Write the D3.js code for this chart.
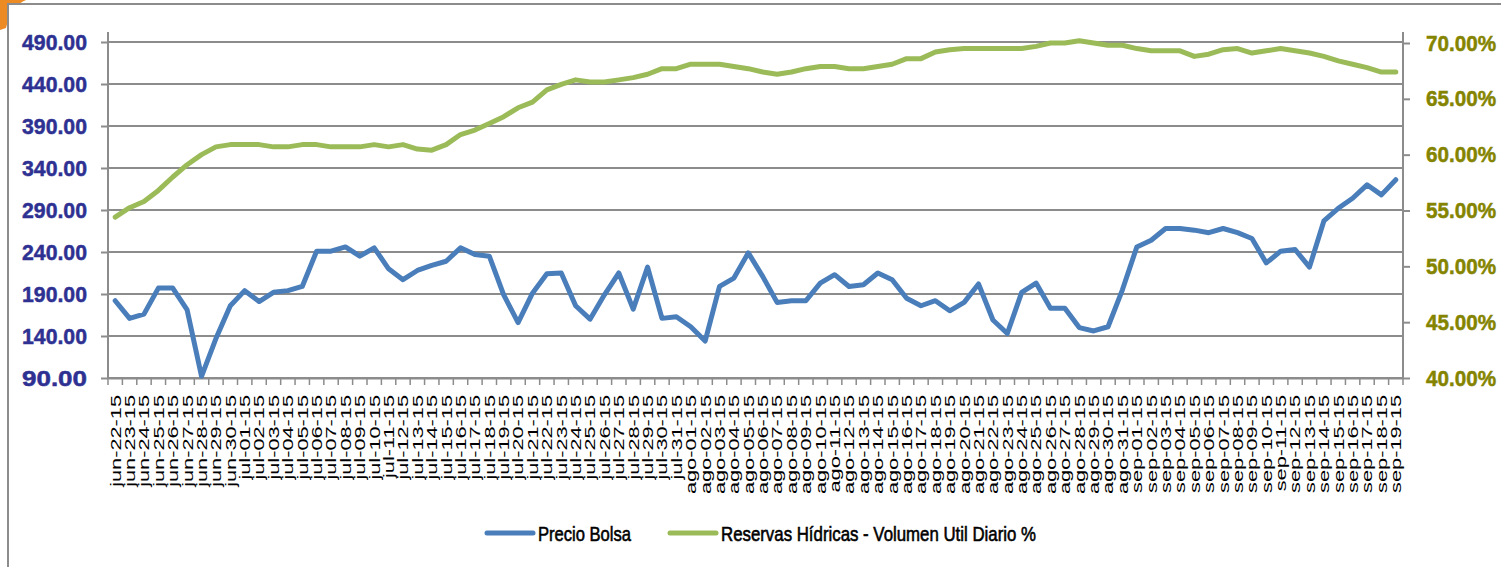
<!DOCTYPE html>
<html>
<head>
<meta charset="utf-8">
<script src="https://cdn.jsdelivr.net/npm/d3@7"></script>
<style>
  body { margin: 0; background: #fff; }
  svg { display: block; }
</style>
</head>
<body>
<div class="usable"></div>
<script>
const fechas = [
  "jun-22-15", "jun-23-15", "jun-24-15", "jun-25-15", "jun-26-15", "jun-27-15", "jun-28-15", "jun-29-15", "jun-30-15",
  "jul-01-15", "jul-02-15", "jul-03-15", "jul-04-15", "jul-05-15", "jul-06-15", "jul-07-15", "jul-08-15", "jul-09-15", "jul-10-15",
  "jul-11-15", "jul-12-15", "jul-13-15", "jul-14-15", "jul-15-15", "jul-16-15", "jul-17-15", "jul-18-15", "jul-19-15", "jul-20-15",
  "jul-21-15", "jul-22-15", "jul-23-15", "jul-24-15", "jul-25-15", "jul-26-15", "jul-27-15", "jul-28-15", "jul-29-15", "jul-30-15", "jul-31-15",
  "ago-01-15", "ago-02-15", "ago-03-15", "ago-04-15", "ago-05-15", "ago-06-15", "ago-07-15", "ago-08-15", "ago-09-15", "ago-10-15",
  "ago-11-15", "ago-12-15", "ago-13-15", "ago-14-15", "ago-15-15", "ago-16-15", "ago-17-15", "ago-18-15", "ago-19-15", "ago-20-15",
  "ago-21-15", "ago-22-15", "ago-23-15", "ago-24-15", "ago-25-15", "ago-26-15", "ago-27-15", "ago-28-15", "ago-29-15", "ago-30-15", "ago-31-15",
  "sep-01-15", "sep-02-15", "sep-03-15", "sep-04-15", "sep-05-15", "sep-06-15", "sep-07-15", "sep-08-15", "sep-09-15", "sep-10-15",
  "sep-11-15", "sep-12-15", "sep-13-15", "sep-14-15", "sep-15-15", "sep-16-15", "sep-17-15", "sep-18-15", "sep-19-15"
]

const precioBolsa = [
  182, 161, 166, 197, 197, 171, 92, 137, 176, 194,
  181, 192, 194, 199, 241, 241, 246, 235, 245, 220,
  207, 218, 224, 229, 245, 237, 235, 189, 156, 191,
  214, 215, 176, 160, 189, 215, 172, 222, 161, 163,
  151, 134, 199, 209, 239, 211, 180, 182, 182, 203,
  213, 199, 201, 215, 207, 185, 176, 182, 170, 180,
  202, 159, 143, 192, 203, 173, 173, 150, 146, 151,
  195, 246, 254, 268, 268, 266, 263, 268, 263, 256,
  227, 241, 243, 222, 277, 292, 304, 320, 308, 326
]

const reservasHidricas = [
  54.4, 55.25, 55.8, 56.8, 58.0, 59.1, 60.0, 60.7, 60.9, 60.9,
  60.9, 60.7, 60.7, 60.9, 60.9, 60.7, 60.7, 60.7, 60.9, 60.7,
  60.9, 60.5, 60.4, 60.9, 61.8, 62.2, 62.8, 63.4, 64.2, 64.7,
  65.8, 66.3, 66.7, 66.5, 66.5, 66.7, 66.9, 67.2, 67.7, 67.7,
  68.1, 68.1, 68.1, 67.9, 67.7, 67.4, 67.2, 67.4, 67.7, 67.9,
  67.9, 67.7, 67.7, 67.9, 68.1, 68.6, 68.6, 69.2, 69.4, 69.5,
  69.5, 69.5, 69.5, 69.5, 69.7, 70.0, 70.0, 70.2, 70.0, 69.8,
  69.8, 69.5, 69.3, 69.3, 69.3, 68.8, 69.0, 69.4, 69.5, 69.1,
  69.3, 69.5, 69.3, 69.1, 68.8, 68.4, 68.1, 67.8, 67.4, 67.4
]

const ticksPrecio = [90, 140, 190, 240, 290, 340, 390, 440, 490]
const ticksReservas = [40, 45, 50, 55, 60, 65, 70]
const series = ["Precio Bolsa", "Reservas Hídricas - Volumen Util Diario %"]

const width = 1501,
  height = 567
const izq = 108, der = 1403, arriba = 42, abajo = 378
const azul = "#4a7ebb", verde = "#9bbb59", gris = "#8c8c8c"

let svg = d3.select(".usable").append("svg")
  .attr("width", width)
  .attr("height", height)

// esquina naranja de la diapositiva, y el marco
svg.append("path").attr("d", "M0,0 L26,0 Q11,6 6,28 L0,30 Z").attr("fill", "#ec8a24")
svg.append("rect").attr("x", 8).attr("y", 4).attr("width", width - 8).attr("height", height - 4).attr("fill", "#fff")
svg.append("path").attr("d", "M8," + height + " L8,4 L" + width + ",4")
  .attr("fill", "none").attr("stroke", gris).attr("stroke-width", 2)

const x = d3.scaleBand().domain(fechas).range([izq, der])
const yIzq = d3.scaleLinear().domain([90, 490]).range([abajo, arriba])
const yDer = d3.scaleLinear().domain([40, 70]).range([abajo, 43])

// lineas de cuadricula
svg.append("g").selectAll("line").data(ticksPrecio).enter().append("line")
  .attr("x1", izq).attr("x2", der)
  .attr("y1", d => yIzq(d)).attr("y2", d => yIzq(d))
  .attr("stroke", gris).attr("stroke-width", 2)

// eje izquierdo
let ejeIzq = svg.append("g").attr("transform", "translate(" + izq + ",0)")
  .call(d3.axisLeft(yIzq).tickValues(ticksPrecio).tickSize(7).tickPadding(14).tickFormat(d3.format(".2f")))
ejeIzq.select(".domain").remove()
ejeIzq.selectAll("line").attr("stroke", gris).attr("stroke-width", 2)
ejeIzq.selectAll("text")
  .attr("fill", "#2e3192").attr("stroke", "#2e3192").attr("stroke-width", 0.5)
  .attr("font-family", "'Liberation Sans', Arial, sans-serif")
  .attr("font-weight", "bold").attr("font-size", 22)
  .attr("textLength", 65).attr("lengthAdjust", "spacingAndGlyphs")
svg.append("line").attr("x1", izq).attr("x2", izq).attr("y1", 32).attr("y2", abajo)
  .attr("stroke", gris).attr("stroke-width", 2)

// eje derecho
let ejeDer = svg.append("g").attr("transform", "translate(" + der + ",0)")
  .call(d3.axisRight(yDer).tickValues(ticksReservas).tickSize(7).tickPadding(16).tickFormat(d => d.toFixed(2) + "%"))
ejeDer.select(".domain").remove()
ejeDer.selectAll("line").attr("stroke", gris).attr("stroke-width", 2)
ejeDer.selectAll("text")
  .attr("fill", "#848400").attr("stroke", "#848400").attr("stroke-width", 0.5)
  .attr("font-family", "'Liberation Sans', Arial, sans-serif")
  .attr("font-weight", "bold").attr("font-size", 22)
  .attr("textLength", 70).attr("lengthAdjust", "spacingAndGlyphs")
svg.append("line").attr("x1", der).attr("x2", der).attr("y1", 32).attr("y2", abajo)
  .attr("stroke", gris).attr("stroke-width", 2)

// eje de fechas
let ejeX = svg.append("g").attr("transform", "translate(0," + abajo + ")")
  .call(d3.axisBottom(x).tickSize(0))
ejeX.select(".domain").attr("stroke", gris).attr("stroke-width", 2)
ejeX.selectAll("text")
  .attr("y", 0).attr("dy", "0.36em").attr("x", 0)
  .attr("text-anchor", "end")
  .attr("transform", "translate(0,17) rotate(-90) scale(1.45,1)")
  .attr("fill", "#000").attr("font-family", "'Liberation Sans', Arial, sans-serif").attr("font-size", 15)
ejeX.append("g").selectAll("line").data(d3.range(fechas.length + 1)).enter().append("line")
  .attr("x1", i => izq + i * x.step()).attr("x2", i => izq + i * x.step())
  .attr("y1", 0).attr("y2", 7)
  .attr("stroke", gris).attr("stroke-width", 1.5)

const cx = (d, i) => x(fechas[i]) + x.bandwidth() / 2

svg.append("path").datum(precioBolsa)
  .attr("d", d3.line().x(cx).y(d => yIzq(d)))
  .attr("fill", "none").attr("stroke", azul).attr("stroke-width", 5)
  .attr("stroke-linejoin", "round").attr("stroke-linecap", "round")

svg.append("path").datum(reservasHidricas)
  .attr("d", d3.line().x(cx).y(d => yDer(d)))
  .attr("fill", "none").attr("stroke", verde).attr("stroke-width", 5)
  .attr("stroke-linejoin", "round").attr("stroke-linecap", "round")

// leyenda
function crearLeyenda(nombre, color, x0, largo) {
  let g = svg.append("g")
  g.append("line").attr("x1", x0).attr("x2", x0 + 46).attr("y1", 533).attr("y2", 533)
    .attr("stroke", color).attr("stroke-width", 5).attr("stroke-linecap", "round")
  g.append("text").text(nombre).attr("x", x0 + 51).attr("y", 541)
    .attr("font-family", "'Liberation Sans', Arial, sans-serif").attr("font-size", 21)
    .attr("stroke", "#000").attr("stroke-width", 0.6)
    .attr("textLength", largo).attr("lengthAdjust", "spacingAndGlyphs").attr("fill", "#000")
}
crearLeyenda(series[0], azul, 487, 93)
crearLeyenda(series[1], verde, 670, 315)
</script>
</body>
</html>
